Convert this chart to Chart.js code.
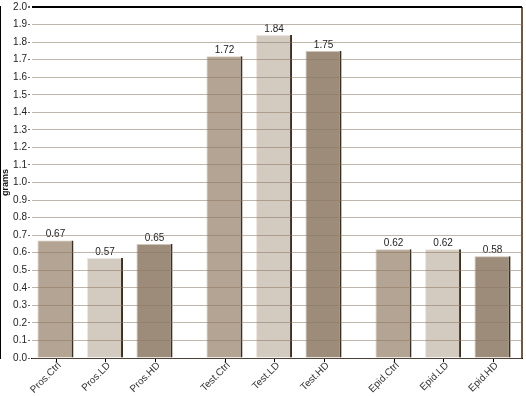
<!DOCTYPE html>
<html><head><meta charset="utf-8">
<script src="https://cdn.jsdelivr.net/npm/chart.js@4"></script>
<style>html,body{margin:0;padding:0;background:#fff}#wrap{width:526px;height:396px}</style>
</head><body><div id="wrap"><canvas id="c" width="526" height="396"></canvas></div>
<script>
const groups = ['Pros', 'Test', 'Epid'];
const series = ['Ctrl', 'LD', 'HD'];
const ctrlValues = [0.67, 1.72, 0.62];
const ldValues = [0.57, 1.84, 0.62];
const hdValues = [0.65, 1.75, 0.58];
const yTicks = [0.0,0.1,0.2,0.3,0.4,0.5,0.6,0.7,0.8,0.9,1.0,1.1,1.2,1.3,1.4,1.5,1.6,1.7,1.8,1.9,2.0];
const yTitle = 'grams';

const fills = ['#b4a493', '#d4cbc0', '#9d8c79'];
const seriesValues = [ctrlValues, ldValues, hdValues];
const FONT = '"Liberation Sans", Arial, sans-serif';

const datasets = series.map((s, si) => ({
  label: s,
  data: seriesValues[si].map((v, gi) => ({x: gi, y: v})),
  backgroundColor: fills[si],
  borderColor: '#3b2f24',
  borderWidth: {right: 2, left: 0, top: 0, bottom: 0},
  borderSkipped: false,
  categoryPercentage: 0.879,
  barPercentage: 0.727
}));

const overlay = {
  id: 'overlay',
  afterDatasetsDraw(chart) {
    const ctx = chart.ctx;
    const area = chart.chartArea;
    ctx.save();
    chart.data.datasets.forEach((ds, di) => {
      chart.getDatasetMeta(di).data.forEach((bar) => {
        const w = bar.width;
        const l = bar.x - w / 2, r = bar.x + w / 2;
        ctx.strokeStyle = 'rgba(255,255,255,0.55)';
        ctx.lineWidth = 1;
        ctx.beginPath();
        ctx.moveTo(l + 0.5, bar.base);
        ctx.lineTo(l + 0.5, bar.y + 0.5);
        ctx.lineTo(r - 2, bar.y + 0.5);
        ctx.stroke();
      });
    });
    ctx.font = '10px ' + FONT;
    chart.data.datasets.forEach((ds, di) => {
      chart.getDatasetMeta(di).data.forEach((bar, gi) => {
        ctx.fillStyle = '#222';
        ctx.textAlign = 'center';
        ctx.textBaseline = 'bottom';
        ctx.fillText(seriesValues[di][gi].toFixed(2), bar.x, bar.y - 1);
        ctx.strokeStyle = '#000';
        ctx.lineWidth = 1;
        ctx.beginPath();
        ctx.moveTo(Math.round(bar.x) + 0.5, area.bottom);
        ctx.lineTo(Math.round(bar.x) + 0.5, area.bottom + 4);
        ctx.stroke();
        ctx.save();
        ctx.translate(bar.x + 4, area.bottom + 6);
        ctx.rotate(-Math.PI / 4);
        ctx.fillStyle = '#333';
        ctx.textAlign = 'right';
        ctx.textBaseline = 'middle';
        ctx.fillText(groups[gi] + '.' + series[di], 0, 0);
        ctx.restore();
      });
    });
    ctx.strokeStyle = '#6b5a45';
    ctx.lineWidth = 2;
    ctx.beginPath();
    ctx.moveTo(area.right, area.top);
    ctx.lineTo(area.right, area.bottom);
    ctx.stroke();
    ctx.restore();
  }
};

new Chart(document.getElementById('c'), {
  type: 'bar',
  data: {datasets},
  plugins: [overlay],
  options: {
    responsive: false,
    animation: false,
    layout: {padding: {top: 7, right: 4, left: 0, bottom: 0}},
    plugins: {legend: {display: false}, tooltip: {enabled: false}},
    scales: {
      x: {
        type: 'linear',
        min: -0.438,
        max: 2.467,
        offset: false,
        afterBuildTicks(scale) { scale.ticks = groups.map((g, i) => ({value: i})); },
        grid: {display: false},
        border: {display: true, color: '#000', width: 1},
        ticks: {display: false},
        afterFit(scale) { scale.height = 38; }
      },
      y: {
        min: 0,
        max: 2.0,
        afterBuildTicks(scale) { scale.ticks = yTicks.map(v => ({value: v})); },
        grid: {
          z: 1,
          color: (c) => c.tick && c.tick.value >= 2.0 ? '#000' : 'rgba(140,120,100,0.55)',
          lineWidth: (c) => c.tick && c.tick.value >= 2.0 ? 2 : 1,
          tickColor: '#666',
          tickLength: 3
        },
        border: {display: true, color: '#000', width: 2},
        ticks: {
          font: {family: FONT, size: 10},
          color: '#222',
          padding: 1,
          callback: (v) => Number(v).toFixed(1)
        },
        title: {display: true, text: yTitle, font: {family: FONT, size: 9, weight: 'bold'}, color: '#111', padding: 0},
        afterFit(scale) { scale.width = 31; }
      }
    }
  }
});
</script></body></html>
